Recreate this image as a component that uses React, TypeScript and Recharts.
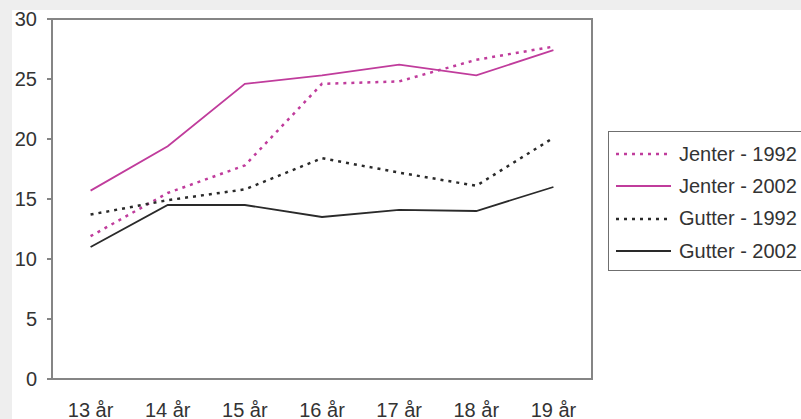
import React from "react"
import { LineChart, Line, XAxis, YAxis, ReferenceArea, Legend } from "recharts"

const categories = ["13 år", "14 år", "15 år", "16 år", "17 år", "18 år", "19 år"]
const jenter1992 = [11.9, 15.5, 17.8, 24.6, 24.8, 26.6, 27.7]
const jenter2002 = [15.7, 19.4, 24.6, 25.3, 26.2, 25.3, 27.4]
const gutter1992 = [13.7, 14.9, 15.8, 18.4, 17.2, 16.1, 20.1]
const gutter2002 = [11.0, 14.5, 14.5, 13.5, 14.1, 14.0, 16.0]
const yTicks = [0, 5, 10, 15, 20, 25, 30]

const data = categories.map((age, i) => ({
  x: i + 0.5,
  age,
  j92: jenter1992[i],
  j02: jenter2002[i],
  g92: gutter1992[i],
  g02: gutter2002[i],
}))

const pink = "#c03c9c"
const dark = "#2a2a2a"
const frame = "#858585"
const font = "'Liberation Sans', Arial, sans-serif"

const series = [
  { key: "j92", name: "Jenter - 1992", color: pink, dash: "3 5" },
  { key: "j02", name: "Jenter - 2002", color: pink, dash: undefined },
  { key: "g92", name: "Gutter - 1992", color: dark, dash: "3 5" },
  { key: "g02", name: "Gutter - 2002", color: dark, dash: undefined },
]

function LegendBox() {
  return (
    <div
      style={{
        border: "1px solid #6f6f6f",
        background: "#fff",
        width: 200,
        padding: "6px 0 3px 0",
        fontFamily: font,
        fontSize: 20,
        color: "#333",
      }}
    >
      {series.map((s) => (
        <div key={s.key} style={{ display: "flex", alignItems: "center", height: 32.3 }}>
          <svg width={70} height={10} style={{ flex: "none" }}>
            <line
              x1={7}
              x2={62}
              y1={5}
              y2={5}
              stroke={s.color}
              strokeWidth={s.dash ? 2.5 : 1.8}
              strokeDasharray={s.dash}
            />
          </svg>
          <span style={{ whiteSpace: "nowrap" }}>{s.name}</span>
        </div>
      ))}
    </div>
  )
}

export default function App() {
  return (
    <div style={{ position: "absolute", left: 0, top: 0, width: 801, height: 419, background: "#eeeeee", overflow: "hidden" }}>
      <div style={{ position: "absolute", left: 12, top: 10, right: 0, bottom: 0, background: "#fff" }} />
      <div style={{ position: "absolute", left: 0, top: 0 }}>
        <LineChart width={801} height={419} data={data} margin={{ top: 19, right: 209, left: 0, bottom: 10 }}>
          <XAxis
            xAxisId="grid"
            dataKey="x"
            type="number"
            domain={[0, 7]}
            ticks={[0, 1, 2, 3, 4, 5, 6, 7]}
            height={0}
            tickSize={5}
            tickFormatter={() => ""}
            axisLine={{ stroke: frame, strokeWidth: 2 }}
            tickLine={{ stroke: frame, strokeWidth: 2 }}
          />
          <XAxis
            xAxisId="lab"
            dataKey="x"
            type="number"
            domain={[0, 7]}
            ticks={data.map((d) => d.x)}
            tickFormatter={(v: number) => categories[Math.floor(v)]}
            height={30}
            axisLine={false}
            tickLine={false}
            tickSize={0}
            tickMargin={24}
            interval={0}
            tick={{ fill: "#333", fontSize: 20, fontFamily: font }}
          />
          <YAxis
            domain={[0, 30]}
            ticks={yTicks}
            width={52}
            tickSize={5}
            tickMargin={10}
            axisLine={{ stroke: frame, strokeWidth: 2 }}
            tickLine={{ stroke: frame, strokeWidth: 2 }}
            tick={{ fill: "#333", fontSize: 20, fontFamily: font }}
          />
          <ReferenceArea
            xAxisId="lab"
            x1={0}
            x2={7}
            y1={0}
            y2={30}
            fill="none"
            stroke={frame}
            strokeWidth={2}
          />
          {series.map((s) => (
            <Line
              key={s.key}
              xAxisId="lab"
              dataKey={s.key}
              name={s.name}
              stroke={s.color}
              strokeWidth={s.dash ? 2.5 : 1.8}
              strokeDasharray={s.dash}
              dot={false}
              activeDot={false}
              isAnimationActive={false}
            />
          ))}
          <Legend
            layout="vertical"
            align="center"
            verticalAlign="middle"
            content={() => <LegendBox />}
            wrapperStyle={{ left: 608, top: 131, width: 200 }}
          />
        </LineChart>
      </div>
    </div>
  )
}
